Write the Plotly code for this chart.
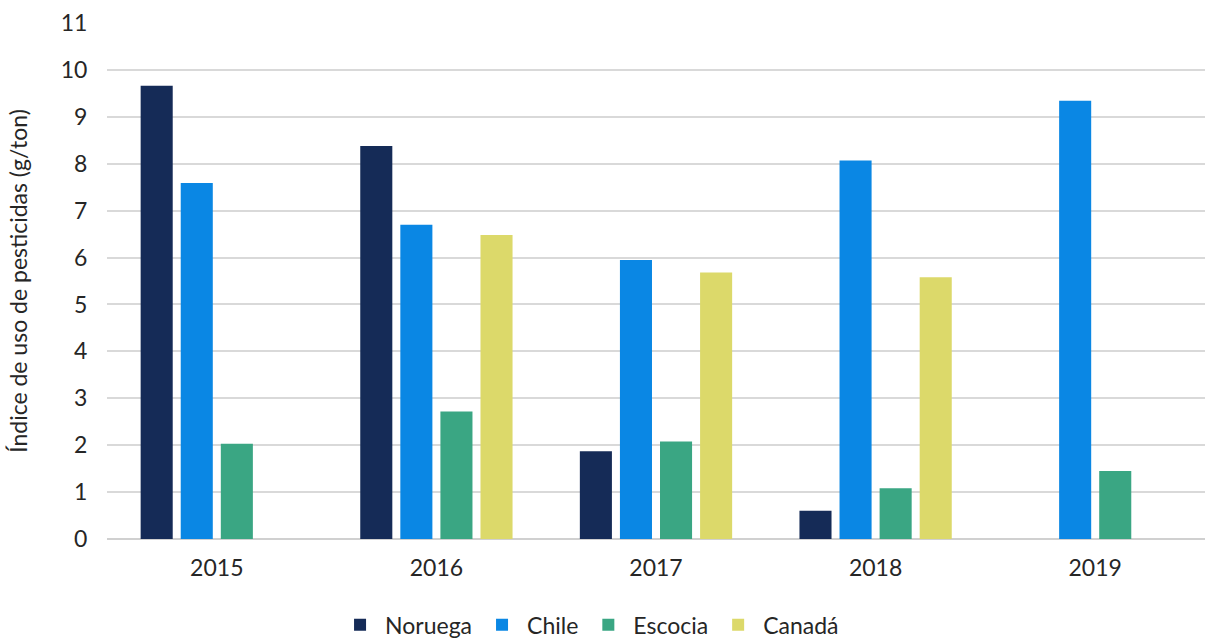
import plotly.graph_objects as go

years = ["2015", "2016", "2017", "2018", "2019"]
noruega = [9.66, 8.38, 1.87, 0.60, None]
chile = [7.59, 6.70, 5.95, 8.07, 9.34]
escocia = [2.03, 2.72, 2.08, 1.08, 1.45]
canada = [None, 6.48, 5.68, 5.58, None]

series = [
    ("Noruega", noruega, "#152B57"),
    ("Chile", chile, "#0A87E4"),
    ("Escocia", escocia, "#3AA683"),
    ("Canadá", canada, "#DCD96A"),
]

fig = go.Figure()
for name, vals, color in series:
    fig.add_trace(go.Bar(
        x=years, y=vals, name=name,
        marker=dict(color=color, line=dict(width=0)),
    ))

font_color = "#262626"
fig.update_layout(
    width=1207, height=644,
    margin=dict(l=107, r=2, t=23, b=105, autoexpand=False),
    paper_bgcolor="white", plot_bgcolor="white",
    font=dict(family="Lato, 'Open Sans', sans-serif", size=23, color=font_color),
    barmode="group", bargap=0.27, bargroupgap=0.2,
    legend=dict(
        orientation="h", x=0.2077, xanchor="left",
        yref="container", y=0.03, yanchor="middle",
        font=dict(size=23, color=font_color), itemwidth=40,
        traceorder="normal",
    ),
    xaxis=dict(
        type="category", showgrid=False, showline=False, zeroline=False,
        ticks="outside", ticklen=8, tickcolor="rgba(0,0,0,0)",
        tickfont=dict(size=23, color=font_color),
    ),
    yaxis=dict(
        range=[0, 11], dtick=1, tick0=0,
        showgrid=True, gridcolor="#D9D9D9", gridwidth=1.5,
        zeroline=True, zerolinecolor="#D0D0D0", zerolinewidth=1.5,
        showline=False,
        ticks="outside", ticklen=14, tickcolor="rgba(0,0,0,0)",
        tickfont=dict(size=23, color=font_color),
        title=dict(text="Índice de uso de pesticidas (g/ton)", standoff=26,
                   font=dict(size=23, color=font_color)),
    ),
)

fig.write_html("out.html")
